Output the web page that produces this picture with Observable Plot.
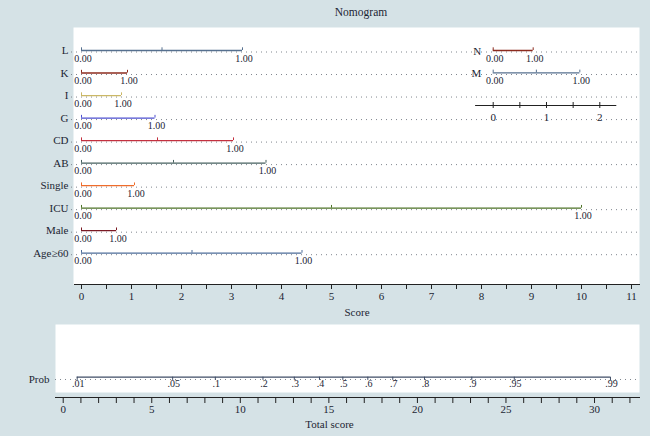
<!DOCTYPE html>
<html><head><meta charset="utf-8">
<script src="https://cdn.jsdelivr.net/npm/d3@7"></script>
<script src="https://cdn.jsdelivr.net/npm/@observablehq/plot@0.6"></script>
<style>
body{margin:0;background:#d5e2e6;}
#wrap{position:relative;width:650px;height:436px;background:#d5e2e6;font-family:"Liberation Serif","DejaVu Serif",serif;color:#1c2533;overflow:hidden}
#wrap svg{position:absolute;left:0;overflow:visible}
#title{position:absolute;top:4px;left:311px;width:100px;text-align:center;font-size:11.5px;line-height:16px}
</style></head><body>
<div id="wrap"><div id="title">Nomogram</div></div>
<script>
// ---- data ----
const rows = ["L", "K", "I", "G", "CD", "AB", "Single", "ICU", "Male", "Age≥60"];
const rowMax = [3.22, 0.92, 0.80, 1.47, 3.04, 3.69, 1.06, 10.0, 0.70, 4.41];
const rowMid = [1.61, null, null, null, 1.52, 1.84, null, 5.0, null, 2.21];
const rowColors = ["#56708f", "#8c2b1e", "#cbb866", "#4d4fd0", "#c3303f", "#46605f", "#ef6d2c", "#4d7226", "#7b1a24", "#4d6d99"];
const levelLabels = ["0.00", "1.00"];

const insetRows = ["N", "M"];
const insetMax = [0.75, 1.625];
const insetMid = [null, 0.81];
const insetColors = ["#8c2b1e", "#56708f"];
const insetTicks = [0, 0.5, 1, 1.5, 2];

const scoreTicks = [0, 0.5, 1, 1.5, 2, 2.5, 3, 3.5, 4, 4.5, 5, 5.5, 6, 6.5, 7, 7.5, 8, 8.5, 9, 9.5, 10, 10.5, 11];

const probLabels = [".01", ".05", ".1", ".2", ".3", ".4", ".5", ".6", ".7", ".8", ".9", ".95", ".99"];
const probScores = [0.79, 6.18, 8.59, 11.28, 13.05, 14.47, 15.79, 17.2, 18.61, 20.4, 23.07, 25.47, 30.9];
const totalTicks = d3.range(0, 33);

// ---- tables ----
const FONT = '"Liberation Serif","DejaVu Serif",serif';
const INK = "#1c2533";
const rowsData = rows.map((name, i) => ({i, name, max: rowMax[i], mid: rowMid[i], color: rowColors[i]}));
const tickData = rowsData.flatMap(d => [0, d.mid, d.max].filter(v => v != null).map(x => ({i: d.i, x, color: d.color})));
const labelData = rowsData.flatMap(d => [{i: d.i, x: 0, text: levelLabels[0]}, {i: d.i, x: d.max, text: levelLabels[1]}]);

const insetData = insetRows.map((name, i) => ({i, name, max: insetMax[i], mid: insetMid[i], color: insetColors[i]}));
const insetTickData = insetData.flatMap(d => [0, d.mid, d.max].filter(v => v != null).map(x => ({i: d.i, x, color: d.color})));
const insetLabelData = insetData.flatMap(d => [{i: d.i, x: 0, text: levelLabels[0]}, {i: d.i, x: d.max, text: levelLabels[1]}]);

const probData = probLabels.map((label, k) => ({label, score: probScores[k]}));

const baseStyle = {fontFamily: FONT, fontSize: "11px", background: "transparent", color: INK};
const wrap = document.getElementById("wrap");

// ---- top panel ----
const topPlot = Plot.plot({
  width: 650, height: 325,
  marginTop: 27, marginBottom: 41, marginLeft: 74, marginRight: 11,
  style: baseStyle,
  x: {domain: [-0.14, 11.16]},
  y: {domain: [0, 9], range: [50, 252.7]},
  color: {type: "identity"},
  marks: [
    Plot.frame({fill: "white", stroke: "none", insetLeft: -1}),
    Plot.ruleY(rowsData, {y: "i", stroke: "#80868e", strokeDasharray: "1 4", strokeWidth: 1, insetLeft: -3, dy: 1.5}),
    Plot.ruleY(rowsData, {y: "i", x1: 0, x2: "max", stroke: d => d.color, strokeWidth: 1.3}),
    Plot.ruleX(tickData, {x: "x", y1: "i", y2: d => d.i - 0.12, stroke: d => d.color, strokeWidth: 1}),
    Plot.text(labelData, {x: "x", y: "i", text: "text", dy: 8, dx: 1.5, fontSize: 10, fill: INK}),
    Plot.axisY({ticks: d3.range(10), tickFormat: i => rows[i], tickSize: 0, tickPadding: 6, fontSize: 11, label: null}),
    Plot.frame({anchor: "bottom", stroke: "#222"}),
    Plot.axisX({ticks: scoreTicks, tickSize: 5, tickPadding: 3, tickFormat: d => Number.isInteger(d) ? String(d) : "", fontSize: 11, label: null, stroke: "#222"}),
    Plot.text(["Score"], {frameAnchor: "bottom", dy: 31, fontSize: 11, fill: INK})
  ]
});
topPlot.style.top = "0px";
wrap.appendChild(topPlot);

// ---- inset (N, M) ----
const insetPlot = Plot.plot({
  width: 650, height: 125,
  marginTop: 50, marginBottom: 20, marginLeft: 475.1, marginRight: 34.7,
  style: baseStyle,
  x: {domain: [-0.33, 2.3]},
  y: {domain: [0, 1], range: [50, 72.3], axis: null},
  color: {type: "identity"},
  marks: [
    Plot.ruleY(insetData, {y: "i", x1: 0, x2: "max", stroke: d => d.color, strokeWidth: 1.3}),
    Plot.ruleX(insetTickData, {x: "x", y1: "i", y2: d => d.i - 0.12, stroke: d => d.color, strokeWidth: 1}),
    Plot.text(insetLabelData, {x: "x", y: "i", text: "text", dy: 8, dx: 1.5, fontSize: 10, fill: INK}),
    Plot.text(insetData, {x: 0, y: "i", text: "name", textAnchor: "end", dx: -12, dy: 1, fontSize: 11, fill: INK}),
    Plot.frame({anchor: "bottom", stroke: "#222"}),
    Plot.axisX({ticks: insetTicks, tickSize: 6, dy: -3, tickPadding: 5, tickFormat: d => Number.isInteger(d) ? String(d) : "", fontSize: 11, label: null, stroke: "#222"})
  ]
});
insetPlot.style.top = "0px";
wrap.appendChild(insetPlot);

// ---- bottom panel ----
const bottomPlot = Plot.plot({
  width: 650, height: 118,
  marginTop: 6, marginBottom: 39, marginLeft: 55, marginRight: 11,
  style: baseStyle,
  x: {domain: [-0.435, 32.54]},
  y: {domain: [0, 1], range: [58.7, 80]},
  marks: [
    Plot.frame({fill: "white", stroke: "none", insetBottom: 5}),
    Plot.ruleY([0], {stroke: "#80868e", strokeDasharray: "1 4", strokeWidth: 1, dy: 2.3}),
    Plot.ruleY([0], {x1: probScores[0], x2: probScores[probScores.length - 1], stroke: "#3f4d66", strokeWidth: 1.3}),
    Plot.ruleX(probData, {x: "score", y1: 0, y2: 0.15, stroke: "#3f4d66", strokeWidth: 1}),
    Plot.text(probData, {x: "score", y: 0, text: "label", dy: 7, dx: 1, fontSize: 10, fill: INK}),
    Plot.axisY({ticks: [0], tickFormat: () => "Prob", tickSize: 0, tickPadding: 6, fontSize: 11, label: null, dy: 2}),
    Plot.frame({anchor: "bottom", stroke: "#222"}),
    Plot.axisX({ticks: totalTicks, tickSize: 6, tickPadding: 2, tickFormat: d => d % 5 === 0 ? String(d) : "", fontSize: 11, label: null, stroke: "#222"}),
    Plot.text(["Total score"], {frameAnchor: "bottom", dx: -18, dy: 30, fontSize: 11, fill: INK})
  ]
});
bottomPlot.style.top = "318px";
wrap.appendChild(bottomPlot);
</script>
</body></html>
